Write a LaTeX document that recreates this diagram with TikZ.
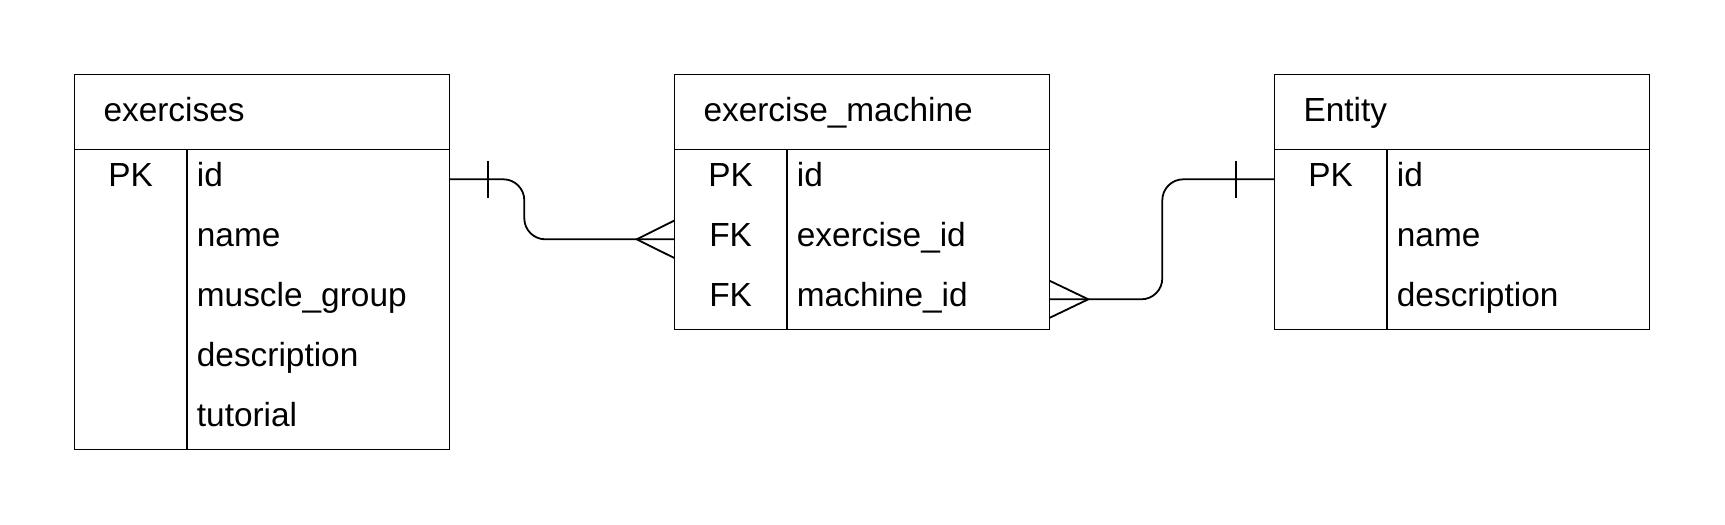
\documentclass[tikz,border=0pt]{standalone}
\usepackage{fontspec}
\setmainfont{Liberation Sans}
\usetikzlibrary{calc}
\newcommand\ERtable[4]{% #1 name, #2 left x, #3 title, #4 rows
  \node[box, anchor=north west, minimum width=375pt, minimum height=75pt] (#1-h) at (#2,74.3) {};
  \node[box, anchor=north west, minimum width=375pt, minimum height=#4*60pt] (#1-b) at (#1-h.south west) {};
  \node[box, anchor=north west, minimum width=112.7pt, minimum height=#4*60pt] (#1-k) at (#1-b.north west) {};
  \node[txt, anchor=base west] (#1-t) at ($(#1-h.west)+(29,10)$) {#3};
}
\newcommand\ERrow[4]{% #1 table, #2 index, #3 key, #4 field
  \node[cell, anchor=north west, minimum width=375pt] (#1-r#2) at ($(#1-b.north west)+(0,{60*(#2-1)})$) {};
  \if\relax\detokenize{#3}\relax\else
    \node[txt, anchor=base] (#1-r#2-k) at ($(#1-r#2.west)+(56.35,7.4)$) {#3};
  \fi
  \node[txt, anchor=base west] (#1-r#2-f) at ($(#1-r#2.west)+(122.4,7.4)$) {#4};
}
\begin{document}
\begin{tikzpicture}[x=1pt,y=-1pt,
  box/.style={draw, line width=1.1pt, inner sep=0pt, outer sep=0pt},
  cell/.style={inner sep=0pt, outer sep=0pt, minimum height=60pt},
  txt/.style={inner sep=0pt, font=\fontsize{33.4}{40}\selectfont},
  conn/.style={line width=1.8pt},
  tick/.style={line width=2pt}]
\useasboundingbox (0,0) rectangle (1725,525);

% exercises
\ERtable{ex}{74.3}{exercises}{5}
\ERrow{ex}{1}{PK}{id}
\ERrow{ex}{2}{}{name}
\ERrow{ex}{3}{}{muscle\_group}
\ERrow{ex}{4}{}{description}
\ERrow{ex}{5}{}{tutorial}

% exercise_machine
\ERtable{em}{674.3}{exercise\_machine}{3}
\ERrow{em}{1}{PK}{id}
\ERrow{em}{2}{FK}{exercise\_id}
\ERrow{em}{3}{FK}{machine\_id}

% Entity
\ERtable{en}{1274.3}{Entity}{3}
\ERrow{en}{1}{PK}{id}
\ERrow{en}{2}{}{name}
\ERrow{en}{3}{}{description}

% connector exercises -> exercise_machine
\draw[conn, rounded corners=21pt] (ex-r1.east) -- ([xshift=75pt]ex-r1.east) |- (em-r2.west);
\draw[tick] ([xshift=39pt,yshift=18.5pt]ex-r1.east) -- ([xshift=39pt,yshift=-18.5pt]ex-r1.east);
\draw[conn] ([yshift=18.7pt]em-r2.west) -- ([xshift=-37.6pt]em-r2.west) -- ([yshift=-18.7pt]em-r2.west);

% connector exercise_machine -> Entity
\draw[conn, rounded corners=21pt] (em-r3.east) -- ([xshift=113pt]em-r3.east) |- (en-r1.west);
\draw[conn] ([yshift=18.7pt]em-r3.east) -- ([xshift=39pt]em-r3.east) -- ([yshift=-18.7pt]em-r3.east);
\draw[tick] ([xshift=-38.3pt,yshift=18.5pt]en-r1.west) -- ([xshift=-38.3pt,yshift=-18.5pt]en-r1.west);
\end{tikzpicture}
\end{document}
